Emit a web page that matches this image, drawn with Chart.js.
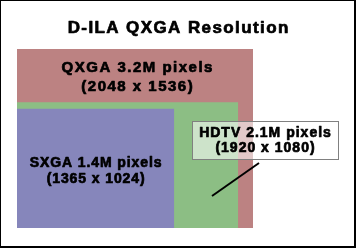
<!DOCTYPE html>
<html>
<head>
<meta charset="utf-8">
<script src="https://cdn.jsdelivr.net/npm/chart.js@4"></script>
<style>
  html, body { margin: 0; padding: 0; background: #fff; }
  #wrap { width: 357px; height: 248px; }
</style>
</head>
<body>
<div id="wrap"><canvas id="chart" width="357" height="248"></canvas></div>
<script>
const TITLE = "D-ILA QXGA Resolution";
const formats = ["QXGA", "HDTV", "SXGA"];
const megapixels = [3.2, 2.1, 1.4];
const widths = [2048, 1920, 1365];
const heights = [1536, 1080, 1024];
const colors = ["#bc8282", "#8cbe84", "#8686bb"];

function textLine(ctx, str, x, y, size, spacing) {
  ctx.save();
  ctx.font = "bold " + size + "px 'Liberation Sans', Arial, sans-serif";
  ctx.letterSpacing = spacing + "px";
  ctx.fillStyle = "#000";
  ctx.strokeStyle = "#000";
  ctx.lineWidth = 0.7;
  ctx.lineJoin = "round";
  ctx.textAlign = "center";
  ctx.textBaseline = "alphabetic";
  ctx.fillText(str, x + spacing / 2, y);
  ctx.strokeText(str, x + spacing / 2, y);
  ctx.restore();
}

const labelPlugin = {
  id: "resLabels",
  afterDraw(chart) {
    const { ctx, scales: { x } } = chart;
    const name = (i) => formats[i] + " " + megapixels[i] + "M pixels";
    const dims = (i) => "(" + widths[i] + " x " + heights[i] + ")";

    // title
    textLine(ctx, TITLE, 178, 33, 17, 1.4);

    // QXGA label in the strip above HDTV
    const qx = (x.getPixelForValue(0) + x.getPixelForValue(widths[0])) / 2 + 2;
    textLine(ctx, name(0), qx, 72, 15, 1.5);
    textLine(ctx, dims(0), qx, 91, 15, 1.5);

    // SXGA label
    const sx = (x.getPixelForValue(0) + x.getPixelForValue(widths[2])) / 2;
    textLine(ctx, name(2), sx, 167, 14, 0.9);
    textLine(ctx, dims(2), sx, 183, 14, 0.9);

    // HDTV callout
    ctx.save();
    ctx.strokeStyle = "#000";
    ctx.lineWidth = 2;
    ctx.beginPath();
    ctx.moveTo(259, 163);
    ctx.lineTo(212, 196);
    ctx.stroke();
    ctx.fillStyle = "rgba(255,255,255,0.57)";
    ctx.fillRect(192, 121, 147, 39);
    ctx.strokeStyle = "#808080";
    ctx.lineWidth = 1;
    ctx.strokeRect(192.5, 121.5, 146, 38);
    ctx.restore();
    textLine(ctx, name(1), 265, 137, 14, 1);
    textLine(ctx, dims(1), 265, 152, 14, 1);

    // frame
    ctx.save();
    ctx.fillStyle = "#000";
    ctx.fillRect(0, 0, 356, 1);
    ctx.fillRect(0, 0, 1, 248);
    ctx.fillRect(354, 0, 2, 248);
    ctx.fillRect(0, 246, 356, 2);
    ctx.restore();
  }
};

new Chart(document.getElementById("chart"), {
  type: "scatter",
  data: {
    datasets: formats.map((f, i) => ({
      label: f,
      data: [{ x: 0, y: heights[i] }, { x: widths[i], y: heights[i] }],
      showLine: true,
      fill: "origin",
      backgroundColor: colors[i],
      borderWidth: 0,
      pointRadius: 0,
      order: -i,
    })),
  },
  options: {
    responsive: false,
    animation: false,
    layout: { padding: { left: 17, right: 104, top: 49, bottom: 20 } },
    plugins: { legend: { display: false }, tooltip: { enabled: false }, title: { display: false } },
    scales: {
      x: { type: "linear", min: 0, max: 2048, display: false },
      y: { type: "linear", min: 0, max: 1536, display: false },
    },
  },
  plugins: [labelPlugin],
});
</script>
</body>
</html>
